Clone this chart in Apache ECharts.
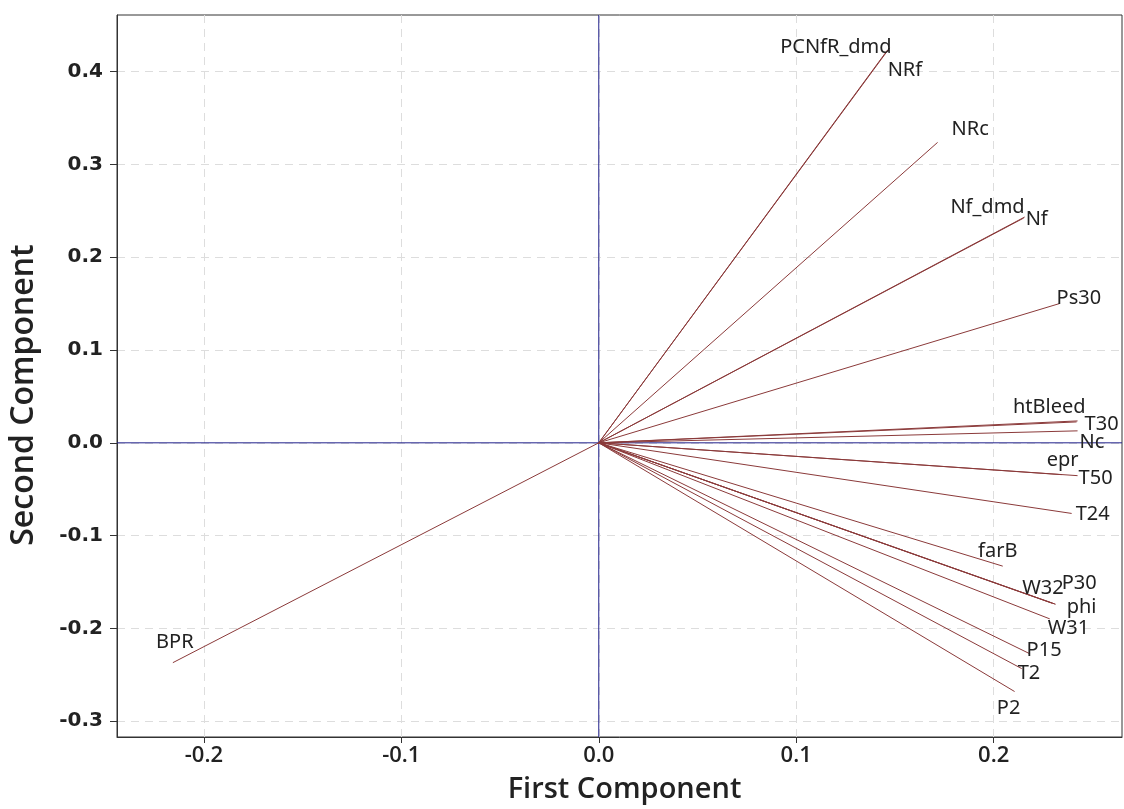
<!DOCTYPE html>
<html><head><meta charset="utf-8">
<script src="https://cdn.jsdelivr.net/npm/echarts@6/dist/echarts.min.js"></script>
<style>html,body{margin:0;padding:0;background:#fff}#c{width:1124px;height:809px}</style>
</head><body><div id="c"></div>
<script>
// Loading plot data (first & second principal component loadings)
var names = ['PCNfR_dmd','NRf','NRc','Nf_dmd','Nf','Ps30','htBleed','T30','Nc','epr','T50','T24','farB','W32','P30','phi','W31','P15','T2','P2','BPR'];
var pc1 = [0.1473,0.1463,0.1716,0.2152,0.2157,0.2334,0.2420,0.2425,0.2425,0.2344,0.2425,0.2395,0.2046,0.2295,0.2309,0.2314,0.2284,0.2182,0.2142,0.2106,-0.2157];
var pc2 = [0.4255,0.4234,0.3237,0.2422,0.2433,0.1501,0.0225,0.0236,0.0129,-0.0343,-0.0354,-0.0761,-0.1329,-0.1728,-0.1736,-0.1740,-0.1897,-0.2272,-0.2433,-0.2680,-0.2369];
var xTicks = [-0.2,-0.1,0.0,0.1,0.2];
var yTicks = [-0.3,-0.2,-0.1,0.0,0.1,0.2,0.3,0.4];
var xMin = -0.244, xMax = 0.265, yMin = -0.317, yMax = 0.461;

// label layout (text anchor offset from vector tip, in px)
var labelLayout = {
  'PCNfR_dmd':{align:'right',off:[2,-1]},
  'NRf':{align:'left',off:[0,20]},
  'NRc':{align:'left',off:[14,-13]},
  'Nf_dmd':{align:'right',off:[1,-11]},
  'Nf':{align:'left',off:[1,2]},
  'Ps30':{align:'left',off:[-3,-5]},
  'htBleed':{align:'right',off:[9,-15]},
  'T30':{align:'left',off:[7,3]},
  'Nc':{align:'left',off:[2,11]},
  'epr':{align:'center',off:[1,-14]},
  'T50':{align:'left',off:[1,3]},
  'T24':{align:'left',off:[4,1]},
  'farB':{align:'center',off:[-5,-15]},
  'W32':{align:'center',off:[-9,-15]},
  'P30':{align:'left',off:[7,-21]},
  'phi':{align:'left',off:[11,3]},
  'W31':{align:'left',off:[-2,9]},
  'P15':{align:'left',off:[-3,-3]},
  'T2':{align:'left',off:[-4,5]},
  'P2':{align:'center',off:[-6,17]},
  'BPR':{align:'center',off:[2,-20]}
};

var vecColor = '#8b3a3a';
var zeroColor = '#22228c';
var series = [];
// zero reference lines
series.push({type:'line',silent:true,animation:false,z:2,showSymbol:false,symbol:'none',
  lineStyle:{color:zeroColor,width:1},data:[[0,yMin],[0,yMax]]});
series.push({type:'line',silent:true,animation:false,z:2,showSymbol:false,symbol:'none',
  lineStyle:{color:zeroColor,width:1},data:[[xMin,0],[xMax,0]]});
names.forEach(function(n,i){
  var L = labelLayout[n];
  series.push({
    type:'line', name:n, silent:true, animation:false, z:3,
    symbol:'circle', symbolSize:0.01, showSymbol:true,
    lineStyle:{color:vecColor,width:1},
    itemStyle:{color:vecColor},
    data:[
      {value:[0,0],label:{show:false}},
      {value:[pc1[i],pc2[i]],label:{show:true,formatter:n,position:'inside',align:L.align,verticalAlign:'middle',offset:L.off,
        color:'#222',fontSize:20,fontFamily:'Noto Sans'}}
    ]
  });
});

var chart = echarts.init(document.getElementById('c'));
chart.setOption({
  backgroundColor:'#fff',
  animation:false,
  grid:{left:117,right:2,top:15,bottom:68,show:true,borderColor:'#333',borderWidth:1},
  xAxis:{type:'value',min:xMin,max:xMax,
    name:'First Component',nameLocation:'middle',nameGap:38,
    nameTextStyle:{fontSize:29,fontWeight:600,fontFamily:'Open Sans',color:'#222',padding:[0,0,0,10]},
    axisLine:{show:true,onZero:false,lineStyle:{color:'#333'}},
    axisTick:{show:true,length:6,customValues:xTicks,lineStyle:{color:'#333'}},
    axisLabel:{customValues:xTicks,fontSize:22,fontWeight:600,fontFamily:'Open Sans',color:'#222',margin:8,
      formatter:function(v){return v.toFixed(1);}},
    splitLine:{show:true,lineStyle:{color:'#dddddd',type:[8,6],width:1}}
  },
  yAxis:{type:'value',min:yMin,max:yMax,
    name:'Second Component',nameLocation:'middle',nameGap:77,nameRotate:90,
    nameTextStyle:{fontSize:32,fontWeight:600,fontFamily:'Open Sans',color:'#222',padding:[0,38,0,0]},
    axisLine:{show:true,onZero:false,lineStyle:{color:'#333'}},
    axisTick:{show:true,length:7,customValues:yTicks,lineStyle:{color:'#333'}},
    axisLabel:{customValues:yTicks,fontSize:20,fontWeight:'bold',fontFamily:'DejaVu Sans',color:'#222',margin:14,
      formatter:function(v){return v.toFixed(1);}},
    splitLine:{show:true,lineStyle:{color:'#dddddd',type:[8,6],width:1}}
  },
  series:series
});
</script></body></html>
